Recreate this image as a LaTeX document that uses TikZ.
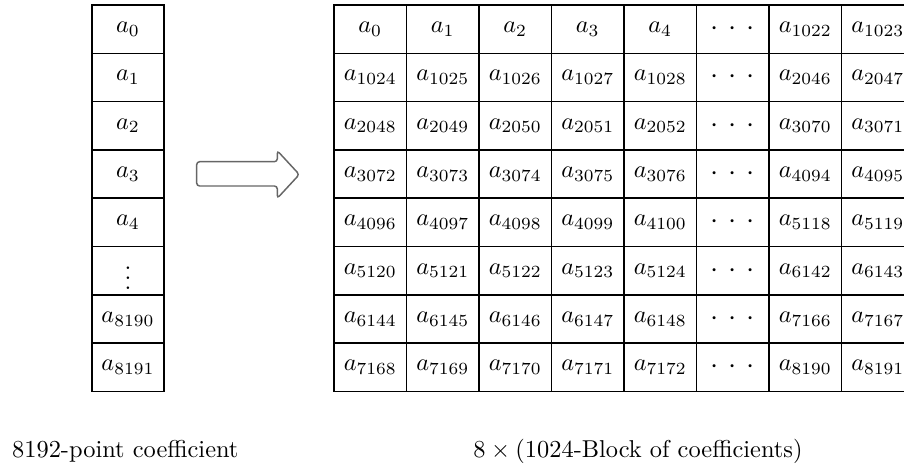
\documentclass[tikz,border=0pt]{standalone}
\begin{document}
\begin{tikzpicture}[x=0.41pt,y=-0.41pt,
  cell/.style={draw,line width=0.6pt,minimum width=29.7pt,minimum height=19.8pt,inner sep=0pt,outer sep=0pt},
  lbl/.style={anchor=base west,inner sep=0pt}]
\useasboundingbox (0,0) rectangle (904,466);
% left column
\foreach \t [count=\i from 0] in {a_{0},a_{1},a_{2},a_{3},a_{4},\vdots,a_{8190},a_{8191}}{
  \node[cell] (L\i) at (128,{29.15+48.3*\i}) {$\t$};
}
% right grid
\foreach \r in {0,...,7}{
  \pgfmathtruncatemacro{\s}{1024*\r}
  \foreach \c in {0,...,7}{
    \ifnum\c<5
      \pgfmathtruncatemacro{\k}{\s+\c}
      \def\txt{$a_{\k}$}
    \else\ifnum\c=5
      \def\txt{\large${\cdot}\hspace{4pt}{\cdot}\hspace{4pt}{\cdot}$}
    \else
      \pgfmathtruncatemacro{\k}{\s+1016+\c}
      \def\txt{$a_{\k}$}
    \fi\fi
    \node[cell] (R\r-\c) at ({370.25+72.5*\c},{29.15+48.3*\r}) {\txt};
  }
}
% arrow
\draw[line width=0.6pt,draw=black!60,rounded corners=1.2pt]
  (196.7,161.7) -- (277.3,161.7) -- (277.3,150.7) -- (299.3,174.5)
  -- (277.3,198.3) -- (277.3,186) -- (196.7,186) -- cycle;
% captions
\node[lbl] (c1) at (11.7,457) {8192-point coefficient};
\node[lbl] (c2) at (473,457) {$8\times{}$(1024-Block of coefficients)};
\end{tikzpicture}
\end{document}
